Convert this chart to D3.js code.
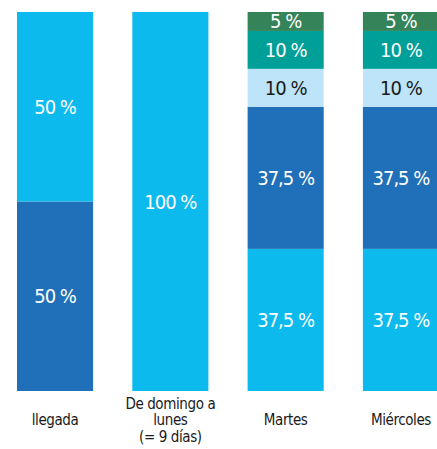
<!DOCTYPE html>
<html>
<head>
<meta charset="utf-8">
<script src="https://cdn.jsdelivr.net/npm/d3@7"></script>
<style>
  body { margin: 0; background: #fff; }
  svg { display: block; }
  text { font-family: 'DejaVu Sans', sans-serif; font-stretch: condensed; }
</style>
</head>
<body>
<svg id="chart"></svg>
<script>
var width = 437, height = 449;

// categories (x labels, split in lines)
var categories = ["llegada", "De domingo a|lunes|(= 9 días)", "Martes", "Miércoles"];

// series values in %, stacked bottom -> top
var cyanBottom = [0, 100, 37.5, 37.5];
var darkBlue   = [50, 0, 37.5, 37.5];
var cyanTop    = [50, 0, 0, 0];
var lightBlue  = [0, 0, 10, 10];
var teal       = [0, 0, 10, 10];
var green      = [0, 0, 5, 5];

var keys = ["cyanBottom", "darkBlue", "cyanTop", "lightBlue", "teal", "green"];
var seriesValues = [cyanBottom, darkBlue, cyanTop, lightBlue, teal, green];
var colors = {
  cyanBottom: "#0cbaee", darkBlue: "#1f70b8", cyanTop: "#0cbaee",
  lightBlue: "#bee4f9", teal: "#00a098", green: "#358459"
};
var labelColors = {
  cyanBottom: "#ffffff", darkBlue: "#ffffff", cyanTop: "#ffffff",
  lightBlue: "#1a1a1a", teal: "#ffffff", green: "#ffffff"
};

var table = categories.map(function(c, i) {
  var row = {cat: c};
  keys.forEach(function(k, j) { row[k] = seriesValues[j][i]; });
  return row;
});

var stacked = d3.stack().keys(keys)(table);

var svg = d3.select("#chart")
    .attr("width", width)
    .attr("height", height);

var x = d3.scaleBand()
    .domain(categories)
    .range([17, 439])
    .paddingInner(0.34)
    .paddingOuter(0);

var y = d3.scaleLinear()
    .domain([0, 100])
    .range([391, 12]);

var fmt = function(v) { return String(v).replace(".", ",") + " %"; };

var layers = svg.selectAll("g.layer")
  .data(stacked)
  .enter().append("g")
    .attr("class", "layer");

layers.selectAll("rect")
  .data(function(s) { return s.map(function(d) { return {key: s.key, d: d}; }); })
  .enter().append("rect")
    .attr("x", function(o) { return x(o.d.data.cat); })
    .attr("width", x.bandwidth())
    .attr("y", function(o) { return y(o.d[1]); })
    .attr("height", function(o) { return y(o.d[0]) - y(o.d[1]); })
    .attr("fill", function(o) { return colors[o.key]; });

layers.selectAll("text")
  .data(function(s) {
    return s.filter(function(d) { return d[1] - d[0] > 0; })
            .map(function(d) { return {key: s.key, d: d}; });
  })
  .enter().append("text")
    .attr("x", function(o) { return x(o.d.data.cat) + x.bandwidth() / 2; })
    .attr("y", function(o) { return (y(o.d[0]) + y(o.d[1])) / 2 + 7; })
    .attr("text-anchor", "middle")
    .attr("font-size", "20px")
    .attr("letter-spacing", "-1px")
    .attr("fill", function(o) { return labelColors[o.key]; })
    .text(function(o) { return fmt(o.d[1] - o.d[0]); });

// x labels
var xl = svg.append("g").selectAll("text")
  .data(categories)
  .enter().append("text")
    .attr("text-anchor", "middle")
    .attr("font-size", "15px")
    .attr("letter-spacing", "-0.4px")
    .attr("fill", "#1a1a1a");

xl.each(function(c) {
  var lines = c.split("|");
  var t = d3.select(this);
  var cx = x(c) + x.bandwidth() / 2;
  var y0 = 425 - (lines.length - 1) / 2 * 16.5;
  lines.forEach(function(l, i) {
    t.append("tspan")
      .attr("x", cx)
      .attr("y", y0 + i * 16.5)
      .text(l);
  });
});
</script>
</body>
</html>
